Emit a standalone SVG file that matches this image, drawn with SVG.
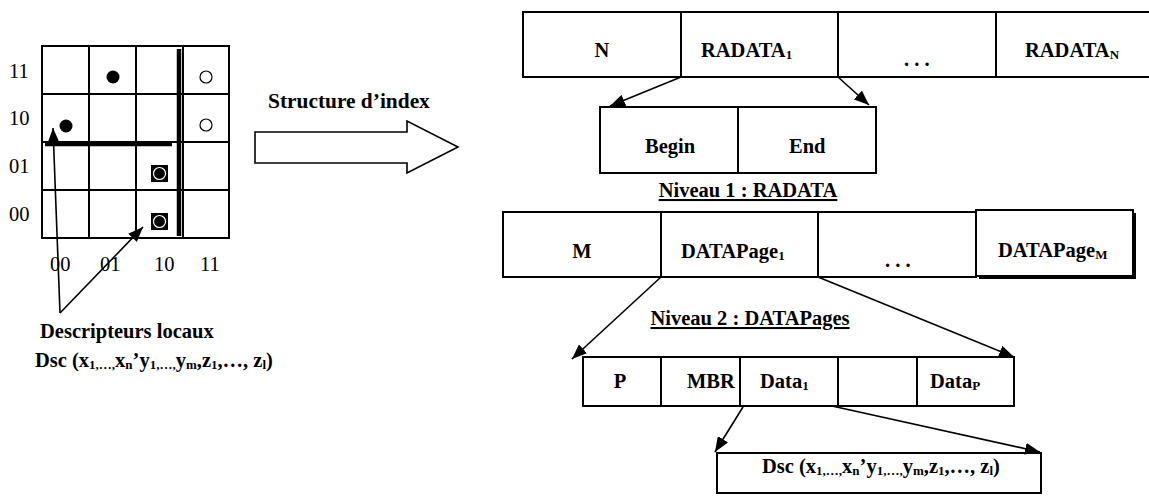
<svg xmlns="http://www.w3.org/2000/svg" width="1149" height="497" viewBox="0 0 1149 497">
  <style>
    .t { font-family: "Liberation Serif", "Times New Roman", serif; font-size: 20.5px; fill: #000; }
    .b { font-weight: bold; }
    .sub { font-size: 13px; }
    .cell { fill: #fff; stroke: #000; stroke-width: 2; }
    .div { stroke: #000; stroke-width: 2; }
    .grid { stroke: #000; stroke-width: 2; fill: none; }
    .bar { stroke: #000; stroke-width: 4.5; }
    .conn { stroke: #000; stroke-width: 1.6; fill: none; marker-end: url(#ah); }
    .u { text-decoration: underline; }
  </style>
  <defs>
    <marker id="ah" markerUnits="userSpaceOnUse" markerWidth="15" markerHeight="12" refX="15" refY="6" orient="auto">
      <path d="M0,0 L15,6 L0,12 z" fill="#000"/>
    </marker>
  </defs>
  <rect width="1149" height="497" fill="#fff"/>

  <!-- grid of local descriptors -->
  <g id="grid">
    <rect class="grid" x="42" y="46" width="187" height="192"/>
    <line class="grid" x1="89" y1="46" x2="89" y2="238"/>
    <line class="grid" x1="136" y1="46" x2="136" y2="238"/>
    <line class="grid" x1="183" y1="46" x2="183" y2="238"/>
    <line class="grid" x1="42" y1="94" x2="229" y2="94"/>
    <line class="grid" x1="42" y1="142" x2="229" y2="142"/>
    <line class="grid" x1="42" y1="190" x2="229" y2="190"/>
    <line class="bar" x1="179" y1="49" x2="179" y2="236"/>
    <line class="bar" x1="45" y1="144" x2="172" y2="144"/>
    <circle cx="113" cy="77" r="6.5" fill="#000"/>
    <circle cx="66" cy="126" r="6.5" fill="#000"/>
    <circle cx="206" cy="77" r="6" fill="#fff" stroke="#000" stroke-width="1.2"/>
    <circle cx="206" cy="125" r="6" fill="#fff" stroke="#000" stroke-width="1.2"/>
    <rect x="151" y="165" width="17" height="17" fill="#000"/>
    <circle cx="159.5" cy="173.5" r="6" fill="#000" stroke="#fff" stroke-width="1.2"/>
    <rect x="151" y="213" width="17" height="17" fill="#000"/>
    <circle cx="159.5" cy="221.5" r="6" fill="#000" stroke="#fff" stroke-width="1.2"/>
    <text class="t" x="9" y="78">11</text>
    <text class="t" x="9" y="125">10</text>
    <text class="t" x="9" y="173">01</text>
    <text class="t" x="9" y="221">00</text>
    <text class="t" x="50" y="271">00</text>
    <text class="t" x="100" y="271">01</text>
    <text class="t" x="154" y="271">10</text>
    <text class="t" x="200" y="271">11</text>
  </g>

  <g id="legend">
    <text class="t b" x="40" y="338">Descripteurs locaux</text>
    <text class="t b" x="35" y="367">Dsc (x<tspan class="sub" dy="2">1,…,</tspan><tspan dy="-2">x</tspan><tspan class="sub" dy="2">n</tspan><tspan dy="-2">’y</tspan><tspan class="sub" dy="2">1,…,</tspan><tspan dy="-2">y</tspan><tspan class="sub" dy="2">m</tspan><tspan dy="-2">,z</tspan><tspan class="sub" dy="2">1</tspan><tspan dy="-2">,…, z</tspan><tspan class="sub" dy="2">l</tspan><tspan dy="-2">)</tspan></text>
  </g>

  <g id="index-arrow">
    <text class="t b" x="268" y="108" style="font-size:21.4px">Structure d’index</text>
    <path d="M255,132 L407,132 L407,121 L458,147 L407,173 L407,163 L255,163 Z" fill="#fff" stroke="#000" stroke-width="1.6"/>
  </g>

  <!-- level 0: RADATA table -->
  <g id="radata-table">
    <rect class="cell" x="523" y="12" width="629" height="65"/>
    <line class="div" x1="681" y1="12" x2="681" y2="77"/>
    <line class="div" x1="838" y1="12" x2="838" y2="77"/>
    <line class="div" x1="996" y1="12" x2="996" y2="77"/>
    <text class="t b" x="602" y="57" text-anchor="middle">N</text>
    <text class="t b" x="701" y="57">RADATA<tspan class="sub" dy="2">1</tspan></text>
    <text class="t b" x="904" y="66">. . .</text>
    <text class="t b" x="1025" y="57">RADATA<tspan class="sub" dy="2">N</tspan></text>
  </g>

  <g id="begin-end">
    <rect class="cell" x="600" y="107" width="276" height="66"/>
    <line class="div" x1="738" y1="107" x2="738" y2="173"/>
    <text class="t b" x="645" y="153">Begin</text>
    <text class="t b" x="789" y="153">End</text>
    <text class="t b u" x="748" y="197" text-anchor="middle">Niveau 1 : RADATA</text>
  </g>

  <!-- level 2: DATAPages -->
  <g id="datapages">
    <rect class="cell" x="503" y="212" width="473" height="65"/>
    <line class="div" x1="661" y1="212" x2="661" y2="277"/>
    <line class="div" x1="818" y1="212" x2="818" y2="277"/>
    <rect x="979" y="213" width="157" height="66" fill="#000"/>
    <rect class="cell" x="976" y="210" width="157" height="66"/>
    <text class="t b" x="582" y="258" text-anchor="middle">M</text>
    <text class="t b" x="681" y="258">DATAPage<tspan class="sub" dy="2">1</tspan></text>
    <text class="t b" x="885" y="267">. . .</text>
    <text class="t b" x="998" y="257">DATAPage<tspan class="sub" dy="2">M</tspan></text>
    <text class="t b u" x="750" y="325" text-anchor="middle">Niveau 2 : DATAPages</text>
  </g>

  <g id="data-row">
    <rect class="cell" x="583" y="357" width="431" height="49"/>
    <line class="div" x1="661" y1="357" x2="661" y2="406"/>
    <line class="div" x1="740" y1="357" x2="740" y2="406"/>
    <line class="div" x1="838" y1="357" x2="838" y2="406"/>
    <line class="div" x1="917" y1="357" x2="917" y2="406"/>
    <text class="t b" x="620" y="388" text-anchor="middle">P</text>
    <text class="t b" x="687" y="388">MBR</text>
    <text class="t b" x="760" y="388">Data<tspan class="sub" dy="2">1</tspan></text>
    <text class="t b" x="930" y="388">Data<tspan class="sub" dy="2">P</tspan></text>
  </g>

  <g id="descriptor">
    <rect class="cell" x="717" y="453" width="324" height="40"/>
    <text class="t b" x="762" y="473">Dsc (x<tspan class="sub" dy="2">1,…,</tspan><tspan dy="-2">x</tspan><tspan class="sub" dy="2">n</tspan><tspan dy="-2">’y</tspan><tspan class="sub" dy="2">1,…,</tspan><tspan dy="-2">y</tspan><tspan class="sub" dy="2">m</tspan><tspan dy="-2">,z</tspan><tspan class="sub" dy="2">1</tspan><tspan dy="-2">,…, z</tspan><tspan class="sub" dy="2">l</tspan><tspan dy="-2">)</tspan></text>
  </g>

  <g id="connectors">
    <line class="conn" x1="60" y1="313" x2="53" y2="128"/>
    <line class="conn" x1="60" y1="313" x2="143" y2="227"/>
    <line class="conn" x1="681" y1="77" x2="610" y2="106"/>
    <line class="conn" x1="838" y1="77" x2="869" y2="105"/>
    <line class="conn" x1="661" y1="277" x2="572" y2="359"/>
    <line class="conn" x1="818" y1="277" x2="1014" y2="357"/>
    <line class="conn" x1="743" y1="407" x2="715" y2="452"/>
    <line class="conn" x1="832" y1="406" x2="1040" y2="452"/>
  </g>
</svg>
